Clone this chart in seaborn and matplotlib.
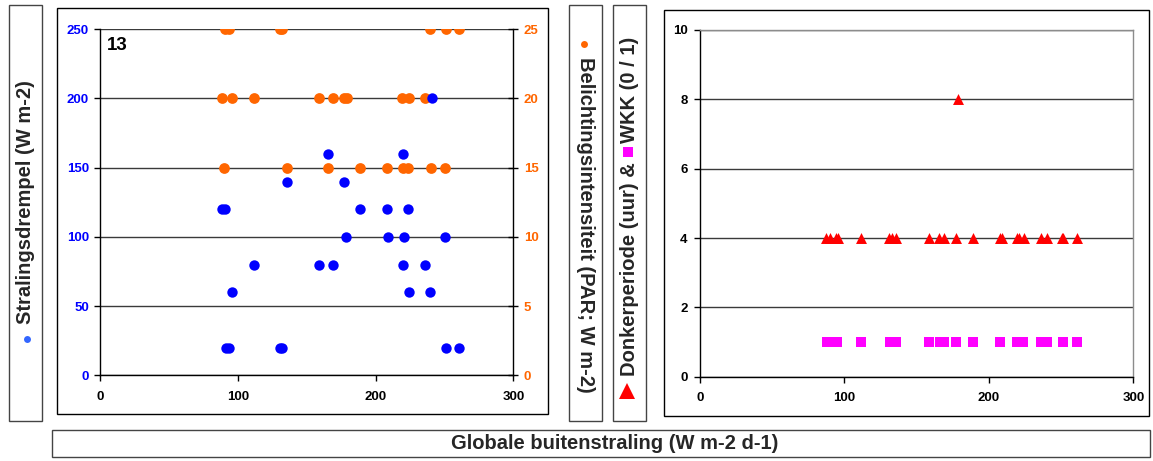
import matplotlib
matplotlib.use("Agg")
import matplotlib.pyplot as plt
import seaborn as sns
import pandas as pd
from matplotlib.patches import Rectangle
from matplotlib.lines import Line2D

# ---------------- data ----------------
# Stralingsdrempel (W m-2) vs globale buitenstraling
drempel_x = [88.3, 90.7, 91.2, 93.6, 95.5, 111.8, 130.5, 132.3, 135.5, 158.9,
             165.7, 168.8, 177.3, 178.8, 189.0, 208.3, 208.8, 219.6, 220.1, 220.4,
             223.7, 224.5, 236.1, 239.7, 240.7, 250.4, 251.1, 260.8]
drempel_y = [120, 120, 20, 20, 60, 80, 20, 20, 140, 80,
             160, 80, 140, 100, 120, 120, 100, 80, 160, 100,
             120, 60, 80, 60, 200, 100, 20, 20]

# Belichtingsintensiteit (PAR; W m-2)
belichting_x = [88.3, 90.2, 90.7, 93.6, 95.5, 111.8, 130.5, 132.3, 135.5, 158.9,
                165.7, 168.8, 177.3, 179.0, 189.0, 208.3, 219.4, 220.1, 223.7, 224.5,
                235.9, 239.5, 240.2, 250.4, 250.8, 260.8]
belichting_y = [20, 15, 25, 25, 20, 20, 25, 25, 15, 20,
                15, 20, 20, 20, 15, 15, 20, 15, 15, 20,
                20, 25, 15, 15, 25, 25]

# Donkerperiode (uur)
donker_x = [87.2, 90.0, 94.2, 95.8, 111.5, 131.1, 133.0, 135.7, 158.3, 165.7,
            168.9, 177.5, 178.8, 189.0, 207.9, 209.0, 219.7, 221.0, 224.5, 235.8,
            240.0, 250.4, 251.5, 260.8]
donker_y = [4, 4, 4, 4, 4, 4, 4, 4, 4, 4,
            4, 4, 8, 4, 4, 4, 4, 4, 4, 4,
            4, 4, 4, 4]

# WKK (0 / 1)
wkk_x = [87.7, 91.2, 94.6, 111.2, 131.5, 135.7, 158.3, 166.2, 168.9, 177.5,
         189.0, 207.9, 219.7, 223.8, 235.8, 240.0, 251.0, 260.8]
wkk_y = [1, 1, 1, 1, 1, 1, 1, 1, 1, 1,
         1, 1, 1, 1, 1, 1, 1, 1]

x_ticks = [0, 100, 200, 300]
left_ticks = [0, 50, 100, 150, 200, 250]
right_ticks = [0, 5, 10, 15, 20, 25]
wkk_ticks = [0, 2, 4, 6, 8, 10]

panel_label = "13"
xlabel = "Globale buitenstraling (W m-2 d-1)"
ylabel_left = "Stralingsdrempel (W m-2)"
ylabel_right = "Belichtingsintensiteit (PAR; W m-2)"
ylabel_wkk_a = "Donkerperiode (uur) &"
ylabel_wkk_b = "WKK (0 / 1)"

BLUE = "#0000FF"
ORANGE = "#FF6600"
RED = "#FF0000"
MAGENTA = "#FF00FF"
GRID = "#3a3a3a"

# ---------------- style ----------------
sns.set_style("ticks")
plt.rcParams['font.family'] = ['Liberation Sans', 'DejaVu Sans']
plt.rcParams['font.weight'] = 'bold'

W, H = 1153, 461
fig = plt.figure(figsize=(W / 100, H / 100), dpi=100)


def fx(px):
    return px / W


def fy(py):
    return 1 - py / H


def box(x0, y0, x1, y1, color="black", lw=1.0):
    fig.add_artist(Rectangle((fx(x0), fy(y1)), fx(x1) - fx(x0), fy(y0) - fy(y1),
                             transform=fig.transFigure, fill=False,
                             edgecolor=color, linewidth=lw))


def fig_marker(px, py, marker, size, color):
    fig.add_artist(Line2D([fx(px)], [fy(py)], transform=fig.transFigure,
                          marker=marker, markersize=size, color=color,
                          markeredgewidth=0, linestyle="none"))


# ---------------- left chart ----------------
ax = fig.add_axes([fx(100), fy(375.3), fx(513.3) - fx(100), fy(29.3) - fy(375.3)])
ax2 = ax.twinx()
ax.set_zorder(ax2.get_zorder() + 1)
ax.patch.set_visible(False)

df_b = pd.DataFrame({"x": belichting_x, "y": belichting_y})
sns.scatterplot(data=df_b, x="x", y="y", ax=ax2, color=ORANGE, s=60,
                marker="o", linewidth=0, zorder=3)
df_d = pd.DataFrame({"x": drempel_x, "y": drempel_y})
sns.scatterplot(data=df_d, x="x", y="y", ax=ax, color=BLUE, s=56,
                marker="o", linewidth=0, zorder=3)

ax.set_xlim(0, 300)
ax.set_ylim(0, 250)
ax2.set_ylim(0, 25)
ax.set_xticks(x_ticks)
ax.set_yticks(left_ticks)
ax2.set_yticks(right_ticks)
ax.set_xlabel("")
ax.set_ylabel("")
ax2.set_xlabel("")
ax2.set_ylabel("")

ax2.yaxis.grid(True, color=GRID, linewidth=1.0, zorder=0)
ax2.set_axisbelow(True)
ax.grid(False)

for s in ["top", "right"]:
    ax.spines[s].set_visible(False)
for s in ["top", "left", "bottom"]:
    ax2.spines[s].set_visible(False)
for a in (ax, ax2):
    for s in a.spines.values():
        s.set_color("black")
        s.set_linewidth(1.0)

TICK = 9.5
ax.tick_params(axis="y", left=True, direction="out", length=4, width=1,
               labelsize=TICK, labelcolor=BLUE, pad=4, color="black")
ax.tick_params(axis="x", bottom=True, direction="out", length=4, width=1,
               labelsize=TICK, labelcolor="black", pad=7, color="black")
ax2.tick_params(axis="y", right=True, direction="inout", length=7, width=1,
                labelsize=TICK, labelcolor=ORANGE, pad=4, color="black")

fig.text(fx(107), fy(37), panel_label, ha="left", va="top",
         fontsize=13.5, fontweight="bold", color="black")

# ---------------- right chart ----------------
ax3 = fig.add_axes([fx(700), fy(376.7), fx(1133.3) - fx(700), fy(30) - fy(376.7)])
df_k = pd.DataFrame({"x": donker_x, "y": donker_y})
df_w = pd.DataFrame({"x": wkk_x, "y": wkk_y})
sns.scatterplot(data=df_k, x="x", y="y", ax=ax3, color=RED, s=62,
                marker="^", linewidth=0, zorder=3)
sns.scatterplot(data=df_w, x="x", y="y", ax=ax3, color=MAGENTA, s=50,
                marker="s", linewidth=0, zorder=3)
ax3.set_xlim(0, 300)
ax3.set_ylim(0, 10)
ax3.set_xticks(x_ticks)
ax3.set_yticks(wkk_ticks)
ax3.set_xlabel("")
ax3.set_ylabel("")
ax3.yaxis.grid(True, color=GRID, linewidth=1.0, zorder=0)
ax3.set_axisbelow(True)
for s in ["left", "bottom"]:
    ax3.spines[s].set_color("black")
    ax3.spines[s].set_linewidth(1.0)
for s in ["top", "right"]:
    ax3.spines[s].set_color("#8c8c8c")
    ax3.spines[s].set_linewidth(1.0)
ax3.tick_params(axis="y", left=True, direction="out", length=4, width=1,
                labelsize=TICK, labelcolor="black", pad=5, color="black")
ax3.tick_params(axis="x", bottom=True, direction="out", length=4, width=1,
                labelsize=TICK, labelcolor="black", pad=7, color="black")

# ---------------- frames ----------------
box(57, 8, 548, 414)
box(664, 10, 1149, 416)
box(9, 5, 42, 421, color="#444444")
box(569, 5, 602, 421, color="#444444")
box(613, 5, 646, 421, color="#444444")
box(52, 430, 1150, 457, color="#444444")

# ---------------- labels ----------------
LBL = 14.5
fig.text(fx(25.5), fy(324), ylabel_left, rotation=90, ha="center", va="bottom",
         fontsize=LBL, fontweight="bold")
fig_marker(27, 339, "o", 5, "#3366FF")

fig.text(fx(585.5), fy(57), ylabel_right, rotation=270, ha="center", va="top",
         fontsize=LBL, fontweight="bold")
fig_marker(584, 44, "o", 5, ORANGE)

fig.text(fx(629.5), fy(376), ylabel_wkk_a, rotation=90, ha="center", va="bottom",
         fontsize=LBL, fontweight="bold")
fig_marker(627, 391, "^", 11, RED)
fig_marker(628, 152, "s", 7, MAGENTA)
fig.text(fx(629.5), fy(143), ylabel_wkk_b, rotation=90, ha="center", va="bottom",
         fontsize=LBL, fontweight="bold")

fig.text(fx(615), fy(443.5), xlabel, ha="center", va="center",
         fontsize=LBL, fontweight="bold")

fig.savefig("out.png", dpi=100)
